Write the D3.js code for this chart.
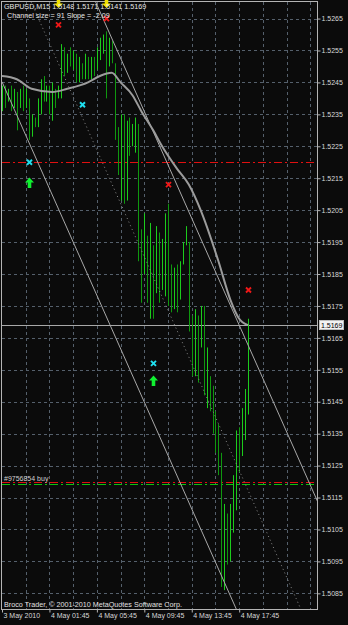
<!DOCTYPE html>
<html>
<head>
<meta charset="utf-8">
<script src="https://cdn.jsdelivr.net/npm/d3@7"></script>
<style>
  body { margin: 0; background: #0b0b0b; }
  svg text { font-family: "Liberation Sans", Arial, sans-serif; }
</style>
</head>
<body>
<svg id="chart"></svg>
<script>
const symbolTitle = 'GBPUSD,M15';
const lastOHLC = ['1.5148', '1.5171', '1.5141', '1.5169'];
const channelText = 'Channel size = 91 Slope = -2.09';
const copyrightText = 'Broco Trader, © 2001-2010 MetaQuotes Software Corp.';

const highs = [
  1.5244, 1.5244, 1.5243, 1.5244, 1.5243, 1.5242, 1.5243, 1.5244, 1.5243, 1.5240,
  1.5235, 1.5234, 1.5240, 1.5246, 1.5247, 1.5244, 1.5244, 1.5245, 1.5243, 1.5244,
  1.5257, 1.5256, 1.5254, 1.5256, 1.5255, 1.5254, 1.5253, 1.5251, 1.5254, 1.5253,
  1.5253, 1.5253, 1.5256, 1.5259, 1.5260, 1.5261, 1.5259, 1.5258, 1.5251, 1.5231,
  1.5235, 1.5235, 1.5233, 1.5234, 1.5232, 1.5234, 1.5232, 1.5199, 1.5204, 1.5197,
  1.5201, 1.5194, 1.5200, 1.5198, 1.5196, 1.5204, 1.5207, 1.5188, 1.5187, 1.5188,
  1.5189, 1.5195, 1.5200, 1.5195, 1.5172, 1.5174, 1.5172, 1.5175, 1.5175, 1.5162,
  1.5153, 1.5150, 1.5142, 1.5138, 1.5129, 1.5113, 1.5110, 1.5113, 1.5122, 1.5136,
  1.5137, 1.5143, 1.5149, 1.5171
];
const lows = [
  1.5236, 1.5237, 1.5239, 1.5236, 1.5237, 1.5230, 1.5237, 1.5236, 1.5237, 1.5227,
  1.5228, 1.5231, 1.5231, 1.5235, 1.5239, 1.5239, 1.5235, 1.5233, 1.5237, 1.5240,
  1.5240, 1.5247, 1.5248, 1.5250, 1.5249, 1.5245, 1.5245, 1.5246, 1.5246, 1.5246,
  1.5246, 1.5247, 1.5249, 1.5252, 1.5254, 1.5240, 1.5250, 1.5251, 1.5227, 1.5216,
  1.5208, 1.5207, 1.5208, 1.5222, 1.5225, 1.5223, 1.5189, 1.5176, 1.5185, 1.5176,
  1.5171, 1.5171, 1.5179, 1.5176, 1.5180, 1.5178, 1.5175, 1.5173, 1.5174, 1.5173,
  1.5177, 1.5188, 1.5194, 1.5167, 1.5153, 1.5153, 1.5151, 1.5162, 1.5147, 1.5143,
  1.5142, 1.5135, 1.5129, 1.5122, 1.5087, 1.5086, 1.5094, 1.5095, 1.5104, 1.5111,
  1.5123, 1.5128, 1.5133, 1.5141
];
const closes = [
  1.5241, 1.5239, 1.5242, 1.5238, 1.5241, 1.5236, 1.5240, 1.5238, 1.5240, 1.5230,
  1.5233, 1.5232, 1.5238, 1.5244, 1.5241, 1.5242, 1.5237, 1.5241, 1.5239, 1.5243,
  1.5253, 1.5249, 1.5252, 1.5251, 1.5253, 1.5247, 1.5250, 1.5248, 1.5251, 1.5248,
  1.5251, 1.5250, 1.5255, 1.5257, 1.5258, 1.5243, 1.5255, 1.5253, 1.5229, 1.5220,
  1.5226, 1.5212, 1.5230, 1.5225, 1.5229, 1.5231, 1.5195, 1.5184, 1.5200, 1.5180,
  1.5190, 1.5178, 1.5196, 1.5185, 1.5192, 1.5198, 1.5180, 1.5178, 1.5184, 1.5176,
  1.5186, 1.5193, 1.5197, 1.5170, 1.5160, 1.5169, 1.5158, 1.5170, 1.5150, 1.5150,
  1.5147, 1.5138, 1.5133, 1.5125, 1.5100, 1.5105, 1.5100, 1.5110, 1.5120, 1.5130,
  1.5128, 1.5140, 1.5148, 1.5169
];

// Moyenne mobile (points relevés : barre, prix)
const maBars   = [0, 5, 10, 17, 22, 29, 33, 37, 40, 44, 47, 51, 54, 59, 63, 67, 73, 77, 80, 81, 83];
const maPrices = [1.5247, 1.5246, 1.5243, 1.5242, 1.5243, 1.5245, 1.5247, 1.5248, 1.5245, 1.5241,
                  1.5236, 1.5230, 1.5225, 1.5218, 1.5213, 1.5205, 1.5189, 1.5177, 1.5171, 1.5170, 1.5169];

// Canal de régression
const channelStartBar = 0;
const channelLowStart = 1.52452;
const channelSize = 0.0091;
const channelSlope = -0.000209;

// Niveaux horizontaux
const bidPrice = 1.5169;
const redLevels = [1.5220, 1.5120];
const greenLevels = [1.51192];
const orderLabel = '#9756854 buy';

// Signaux
const yellowArrowBars = [19, 35];
const yellowArrowPrices = [1.52685, 1.52685];
const redCrossBars = [19, 35, 56, 83];
const redCrossPrices = [1.5263, 1.5265, 1.5213, 1.5180];
const cyanCrossBars = [9, 27, 51];
const cyanCrossPrices = [1.5220, 1.5238, 1.5157];
const upArrowBars = [9, 51];
const upArrowPrices = [1.52135, 1.51515];

// Axes
const priceTicks = d3.range(0, 19).map(i => +(1.5265 - i * 0.001).toFixed(4));
const timeTickBars = [0, 16, 32, 48, 64, 80];
const timeTickLabels = ['3 May 2010', '4 May 01:45', '4 May 05:45', '4 May 09:45', '4 May 13:45', '4 May 17:45'];

// --- Rendu ---
const width = 348, height = 625;
const plot = { left: 2, right: 317, top: 2, bottom: 609 };

const svg = d3.select('#chart').attr('width', width).attr('height', height);

svg.append('rect').attr('width', width).attr('height', height).attr('fill', '#0b0b0b');

const x = d3.scaleLinear().domain([0, 106]).range([2, 2 + 2.965 * 106]);
const y = d3.scaleLinear().domain([1.5080, 1.5270]).range([609.3, 2.6]);

svg.append('clipPath').attr('id', 'plot-clip')
  .append('rect')
  .attr('x', plot.left).attr('y', plot.top)
  .attr('width', plot.right - plot.left).attr('height', plot.bottom - plot.top);

const grid = svg.append('g').attr('stroke', '#55606c').attr('stroke-dasharray', '3,3');

// Grille horizontale
grid.selectAll('.hgrid').data(priceTicks).enter().append('line')
  .attr('x1', plot.left).attr('x2', plot.right)
  .attr('y1', d => Math.round(y(d)) + 0.5).attr('y2', d => Math.round(y(d)) + 0.5);

// Grille verticale toutes les 8 barres
grid.selectAll('.vgrid').data(d3.range(8, 106, 8)).enter().append('line')
  .attr('x1', d => Math.round(x(d)) + 0.5).attr('x2', d => Math.round(x(d)) + 0.5)
  .attr('y1', plot.top).attr('y2', plot.bottom);

const g = svg.append('g').attr('clip-path', 'url(#plot-clip)');

// Lignes d'ordres (rouge / vert, tiret-point)
g.selectAll('.red-level').data(redLevels).enter().append('line')
  .attr('x1', plot.left).attr('x2', plot.right)
  .attr('y1', d => Math.round(y(d)) + 0.5).attr('y2', d => Math.round(y(d)) + 0.5)
  .attr('stroke', '#e01010').attr('stroke-dasharray', '8,3,2,3');

g.selectAll('.green-level').data(greenLevels).enter().append('line')
  .attr('x1', plot.left).attr('x2', plot.right)
  .attr('y1', d => Math.round(y(d)) + 0.5).attr('y2', d => Math.round(y(d)) + 0.5)
  .attr('stroke', '#10c010').attr('stroke-dasharray', '8,3,2,3');

// Ligne bid
g.append('line')
  .attr('x1', plot.left).attr('x2', plot.right)
  .attr('y1', Math.round(y(bidPrice)) + 0.5).attr('y2', Math.round(y(bidPrice)) + 0.5)
  .attr('stroke', '#a8a8a8');

// Barres
const bars = highs.map((h, i) => ({
  i, high: h, low: lows[i], close: closes[i],
  open: i === 0 ? closes[0] : closes[i - 1]
}));

g.selectAll('.bar').data(bars).enter().append('line')
  .attr('x1', d => Math.round(x(d.i)) + 0.5).attr('x2', d => Math.round(x(d.i)) + 0.5)
  .attr('y1', d => y(d.high)).attr('y2', d => y(d.low))
  .attr('stroke', d => d.close >= d.open ? '#1ccc1c' : '#0f980f')
  .attr('stroke-width', 1);

// Canal : bas, haut, milieu
const channelEnd = 110;
const channel = [
  { off: 0, dash: null },
  { off: channelSize, dash: null },
  { off: channelSize / 2, dash: '1,3' }
];
g.selectAll('.channel').data(channel).enter().append('line')
  .attr('x1', x(channelStartBar))
  .attr('y1', d => y(channelLowStart + d.off))
  .attr('x2', x(channelEnd))
  .attr('y2', d => y(channelLowStart + d.off + channelSlope * (channelEnd - channelStartBar)))
  .attr('stroke', d => d.dash ? '#8a8a8a' : '#a8a8a8')
  .attr('stroke-dasharray', d => d.dash);

// Moyenne mobile
const maLine = d3.line()
  .x((d, i) => x(maBars[i]))
  .y(d => y(d))
  .curve(d3.curveMonotoneX);

g.append('path')
  .attr('d', maLine(maPrices))
  .attr('fill', 'none')
  .attr('stroke', '#9c9c9c')
  .attr('stroke-width', 2);

// Croix rouges et cyan
function drawCross(barsArr, pricesArr, color) {
  g.selectAll(null).data(barsArr).enter().append('path')
    .attr('transform', (d, i) => `translate(${Math.round(x(d)) + 0.5},${y(pricesArr[i])})`)
    .attr('d', 'M-2.5,-2.5 L2.5,2.5 M-2.5,2.5 L2.5,-2.5')
    .attr('stroke', color)
    .attr('stroke-width', 1.9);
}
drawCross(redCrossBars, redCrossPrices, '#f01818');
drawCross(cyanCrossBars, cyanCrossPrices, '#20e0f0');

// Flèches vertes (vers le haut)
g.selectAll('.garrow').data(upArrowBars).enter().append('path')
  .attr('transform', (d, i) => `translate(${Math.round(x(d)) + 0.5},${y(upArrowPrices[i])})`)
  .attr('d', 'M0,-5.5 L4.5,-0.5 L1.8,-0.5 L1.8,5 L-1.8,5 L-1.8,-0.5 L-4.5,-0.5 Z')
  .attr('fill', '#10f030');

// Cadre
svg.append('rect')
  .attr('x', 1.5).attr('y', 1.5)
  .attr('width', plot.right - 1).attr('height', plot.bottom - 1)
  .attr('fill', 'none').attr('stroke', '#b4b4b4');

// Flèches jaunes (pointe vers le bas), posées par-dessus le cadre
svg.selectAll('.yarrow').data(yellowArrowBars).enter().append('path')
  .attr('transform', (d, i) => `translate(${Math.round(x(d)) + 0.5},${y(yellowArrowPrices[i])})`)
  .attr('d', 'M0,0.5 L-4.5,-4 L-1.8,-4 L-1.8,-9 L1.8,-9 L1.8,-4 L4.5,-4 Z')
  .attr('fill', '#f2e200');

// Axe des prix (droite)
const yAxis = d3.axisRight(y)
  .tickValues(priceTicks)
  .tickFormat(d => d.toFixed(4))
  .tickSize(3)
  .tickPadding(1);

const yAxisG = svg.append('g')
  .attr('transform', `translate(${plot.right + 0.5},0)`)
  .call(yAxis);
yAxisG.select('.domain').remove();
yAxisG.selectAll('line').attr('stroke', '#b4b4b4');
yAxisG.selectAll('text').attr('fill', '#d8d8d8').attr('font-size', '7px');

// Étiquette du prix courant
svg.append('rect')
  .attr('x', 319.5).attr('y', Math.round(y(bidPrice)) - 4.5)
  .attr('width', 24).attr('height', 9)
  .attr('fill', '#f2f2f2').attr('stroke', '#bdbdbd');
svg.append('text')
  .attr('x', 321).attr('y', y(bidPrice) + 2.5)
  .attr('font-size', '7px').attr('fill', '#000')
  .text(bidPrice.toFixed(4));

// Axe du temps (bas)
const xAxis = d3.axisBottom(x)
  .tickValues(timeTickBars)
  .tickFormat((d, i) => timeTickLabels[i])
  .tickSize(3)
  .tickPadding(1);

const xAxisG = svg.append('g')
  .attr('transform', `translate(0,${plot.bottom + 0.5})`)
  .call(xAxis);
xAxisG.select('.domain').remove();
xAxisG.selectAll('line').attr('stroke', '#b4b4b4');
xAxisG.selectAll('text')
  .attr('fill', '#d8d8d8').attr('font-size', '7px')
  .attr('text-anchor', 'start').attr('dx', '1px');

// Textes
svg.append('text')
  .attr('x', 4).attr('y', 9)
  .attr('font-size', '7.2px').attr('fill', '#e8e8e8')
  .text(`${symbolTitle}  ${lastOHLC.join(' ')}`);

svg.append('text')
  .attr('x', 7).attr('y', 18)
  .attr('font-size', '7.2px').attr('fill', '#e8e8e8')
  .text(channelText);

svg.append('text')
  .attr('x', 4).attr('y', y(redLevels[1]) - 1)
  .attr('font-size', '7px').attr('fill', '#d0d0d0')
  .text(orderLabel);

svg.append('text')
  .attr('x', 4).attr('y', 607)
  .attr('font-size', '7.2px').attr('fill', '#e0e0e0')
  .text(copyrightText);
</script>
</body>
</html>
